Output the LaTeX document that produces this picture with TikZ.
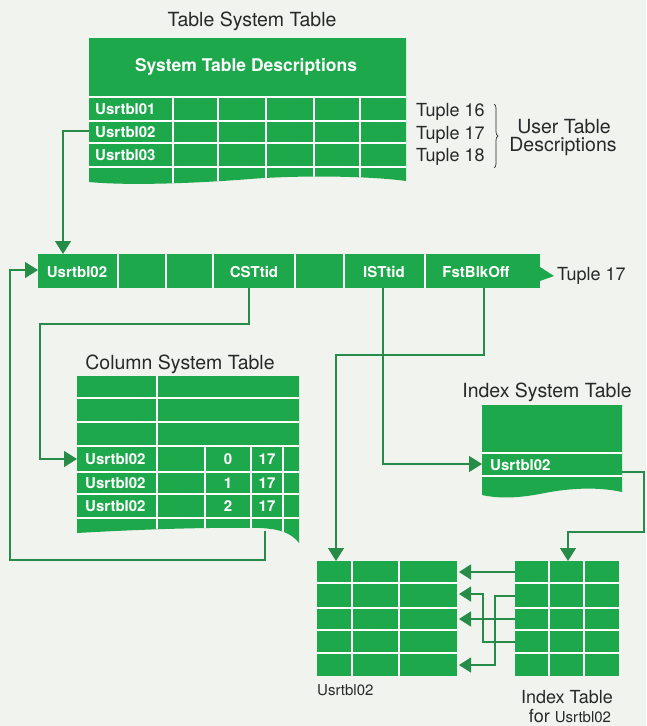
\documentclass[tikz,border=0pt]{standalone}
\usepackage{fontspec}
\setmainfont{TeX Gyre Heros}
\usetikzlibrary{arrows.meta,decorations.pathreplacing}
\definecolor{tg}{RGB}{30,168,76}
\definecolor{lg}{RGB}{38,140,72}
\definecolor{bg}{RGB}{241,243,239}
\definecolor{tx}{RGB}{40,40,40}
\tikzset{
 conn/.style={draw=lg, line width=1.3pt},
 arr/.style={conn, -{Triangle[length=13pt,width=16pt]}},
 gridline/.style={draw=white, line width=1.1pt},
 title/.style={font=\fontsize{18}{20}\selectfont, text=tx, inner sep=0pt},
 bigtitle/.style={font=\fontsize{19.5}{22}\selectfont, text=tx, inner sep=0pt},
 smalltx/.style={font=\fontsize{15}{17}\selectfont, text=tx, inner sep=0pt},
 cellb/.style={font=\bfseries\fontsize{15}{17}\selectfont, text=white, inner sep=0pt},
}
\begin{document}
\begin{tikzpicture}[x=1pt,y=-1pt]
\fill[bg] (0,0) rectangle (646,726);
\useasboundingbox (0,0) rectangle (646,726);

% ---------- Table System Table ----------
\node[bigtitle] (tsttitle) at (252,21) {Table System Table};
\begin{scope}
\clip (89,38) -- (406,38) -- (406,181) .. controls (370,176) and (300,175) .. (250,179) .. controls (200,183) and (130,186) .. (89,182) -- cycle;
\fill[tg] (0,0) rectangle (646,726);
\foreach \y in {97,121,143,167} \draw[gridline] (89,\y) -- (406,\y);
\foreach \x in {173,218,266,314,360} \draw[gridline] (\x,97) -- (\x,190);
\end{scope}
\node[cellb, font=\bfseries\fontsize{17.5}{19}\selectfont] (std) at (246,67) {System Table Descriptions};
\node[cellb, anchor=west] (u1) at (95,109) {Usrtbl01};
\node[cellb, anchor=west] (u2) at (95,132) {Usrtbl02};
\node[cellb, anchor=west] (u3) at (95,155) {Usrtbl03};

\node[title, anchor=west] (t16) at (416,112) {Tuple 16};
\node[title, anchor=west] (t17) at (416,135) {Tuple 17};
\node[title, anchor=west] (t18) at (416,157) {Tuple 18};
\draw[tx, line width=0.7pt, decorate, decoration={brace, amplitude=4pt}] (494,104) -- (494,168);
\node[bigtitle] (utd1) at (564,127) {User Table};
\node[bigtitle] (utd2) at (563,147) {Descriptions};

% ---------- Tuple 17 row ----------
\fill[tg] (38,254) rectangle (540,288);
\fill[tg] (537,265) -- (554,276) -- (540,281) -- cycle;
\foreach \x in {118,166,213,295,344,425} \draw[gridline] (\x,254) -- (\x,288);
\node[cellb] (r1) at (77,272) {Usrtbl02};
\node[cellb] (rc) at (254,272) {CSTtid};
\node[cellb] (ri) at (384,272) {ISTtid};
\node[cellb] (rf) at (476,272) {FstBlkOff};
\node[title, anchor=west] (rt17) at (557,276) {Tuple 17};

% ---------- Column System Table ----------
\node[bigtitle] (csttitle) at (180,364) {Column System Table};
\begin{scope}
\clip (77,376) -- (299,376) -- (299,543) .. controls (292,534) and (282,529) .. (260,528) .. controls (200,527) and (130,530) .. (77,533) -- cycle;
\fill[tg] (0,0) rectangle (646,726);
\foreach \y in {398,422,446,472,494,518} \draw[gridline] (77,\y) -- (299,\y);
\draw[gridline] (157,376) -- (157,550);
\foreach \x in {205,251,283} \draw[gridline] (\x,446) -- (\x,550);
\end{scope}
\node[cellb, anchor=west] (c1) at (85,459) {Usrtbl02};
\node[cellb, anchor=west] (c2) at (85,483) {Usrtbl02};
\node[cellb, anchor=west] (c3) at (85,506) {Usrtbl02};
\node[cellb] (n0) at (228,459) {0};
\node[cellb] (n1) at (228,483) {1};
\node[cellb] (n2) at (228,506) {2};
\node[cellb] (m0) at (267,459) {17};
\node[cellb] (m1) at (267,483) {17};
\node[cellb] (m2) at (267,506) {17};

% ---------- Index System Table ----------
\node[bigtitle] (isttitle) at (547,392) {Index System Table};
\begin{scope}
\clip (482,405) -- (622,405) -- (622,492) .. controls (595,486) and (565,489) .. (545,493) .. controls (520,498) and (500,499) .. (482,495) -- cycle;
\fill[tg] (0,0) rectangle (646,726);
\foreach \y in {453,476} \draw[gridline] (482,\y) -- (622,\y);
\end{scope}
\node[cellb, anchor=west] (i1) at (490,465) {Usrtbl02};

% ---------- User table and Index table ----------
\fill[tg] (317,561) rectangle (457,676);
\foreach \y in {583,608,630,653} \draw[gridline] (317,\y) -- (457,\y);
\foreach \x in {352,399} \draw[gridline] (\x,561) -- (\x,676);
\fill[tg] (515,561) rectangle (619,676);
\foreach \y in {583,608,630,653} \draw[gridline] (515,\y) -- (619,\y);
\foreach \x in {549,584} \draw[gridline] (\x,561) -- (\x,676);
\node[smalltx, anchor=west] (utl) at (317,690) {Usrtbl02};
\node[title] (itl1) at (567,697) {Index Table};
\node[title] (itl2) at (570,716) {for {\fontsize{15}{17}\selectfont Usrtbl02}};

% ---------- connectors ----------
\coordinate (tstL) at (89,131);
\coordinate (rowTop) at (63,254);
\draw[arr] (tstL) -| (rowTop);

\coordinate (cstB) at (265,531);
\coordinate (rowL) at (38,270);
\draw[arr] (cstB) -- (265,560) -- (10,560) |- (rowL);

\coordinate (cstA) at (249,288);
\coordinate (cstIn) at (77,459);
\draw[arr] (cstA) -- (249,324) -- (40,324) |- (cstIn);

\coordinate (istA) at (383,288);
\coordinate (istIn) at (482,464);
\draw[arr] (istA) |- (istIn);

\coordinate (fbA) at (484,288);
\coordinate (utTop) at (336,561);
\draw[arr] (fbA) -- (484,355) -| (utTop);

\coordinate (istOut) at (622,472);
\coordinate (itTop) at (568,561);
\draw[arr] (istOut) -- (644,472) -- (644,532) -| (itTop);

\tikzset{arr2/.style={conn, -{Triangle[length=12pt,width=15pt]}}}
\coordinate (it1) at (515,572);
\coordinate (it2) at (515,596);
\coordinate (it3) at (515,619);
\coordinate (it4) at (515,642);
\coordinate (ut1) at (459,572);
\coordinate (ut2) at (459,594);
\coordinate (ut3) at (459,619);
\coordinate (ut5) at (459,665);
\draw[arr2] (it1) -- (ut1);
\draw[arr2] (it4) -- (483,642) |- (ut2);
\draw[arr2] (it3) -- (ut3);
\draw[arr2] (it2) -- (495,596) |- (ut5);
\end{tikzpicture}
\end{document}
